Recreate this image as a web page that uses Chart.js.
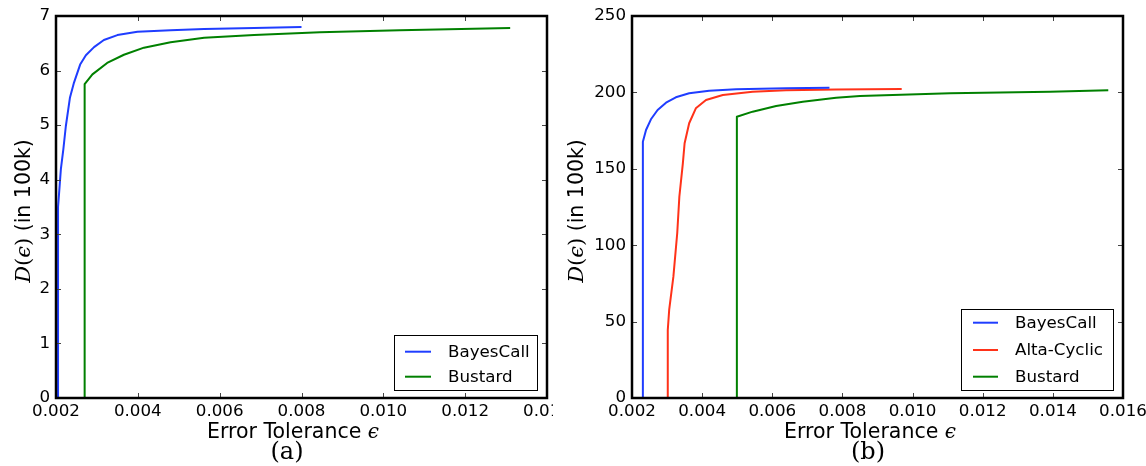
<!DOCTYPE html>
<html>
<head>
<meta charset="utf-8">
<script src="https://cdn.jsdelivr.net/npm/chart.js@4.4.0/dist/chart.umd.min.js"></script>
<style>
html, body { margin: 0; padding: 0; background: #fff; }
#wrap { position: relative; width: 1146px; height: 466px; overflow: hidden; }
.panel { position: absolute; top: 0; height: 466px; }
#panelA { left: 0; width: 553px; }
#panelB { left: 553px; width: 593px; }
</style>
</head>
<body>
<div id="wrap">
  <div class="panel" id="panelA"><canvas id="chartA"></canvas></div>
  <div class="panel" id="panelB"><canvas id="chartB"></canvas></div>
</div>
<script>
// ---------- panel (a) ----------
const epsTicksA = [0.002, 0.004, 0.006, 0.008, 0.010, 0.012, 0.014];
const dTicksA = [0, 1, 2, 3, 4, 5, 6, 7];

const bayesA_eps = [0.00205, 0.00205, 0.00209, 0.00212, 0.00218, 0.00224, 0.00234, 0.00244, 0.00259, 0.00273, 0.00293, 0.00317, 0.00350, 0.00399, 0.00480, 0.00562, 0.00684, 0.00800];
const bayesA_d   = [0, 3.5, 3.9, 4.2, 4.56, 4.98, 5.50, 5.78, 6.11, 6.28, 6.43, 6.56, 6.65, 6.71, 6.74, 6.76, 6.78, 6.80];

const bustardA_eps = [0.00270, 0.00270, 0.00289, 0.00325, 0.00366, 0.00415, 0.00480, 0.00562, 0.00684, 0.00845, 0.01040, 0.01310];
const bustardA_d   = [0, 5.75, 5.93, 6.14, 6.29, 6.42, 6.52, 6.60, 6.65, 6.70, 6.74, 6.78];

// ---------- panel (b) ----------
const epsTicksB = [0.002, 0.004, 0.006, 0.008, 0.010, 0.012, 0.014, 0.016];
const dTicksB = [0, 50, 100, 150, 200, 250];

const bayesB_eps = [0.00231, 0.00231, 0.00240, 0.00254, 0.00273, 0.00297, 0.00325, 0.00363, 0.00420, 0.00497, 0.00639, 0.00763];
const bayesB_d   = [0, 167.7, 175.4, 182.4, 188.5, 193.3, 196.8, 199.4, 201.1, 202, 202.7, 203.1];

const altaB_eps = [0.00302, 0.00302, 0.00306, 0.00318, 0.00329, 0.00335, 0.00345, 0.00350, 0.00363, 0.00382, 0.00411, 0.00459, 0.00544, 0.00639, 0.00782, 0.00969];
const altaB_d   = [0, 44.5, 57.6, 79.4, 108, 131.7, 153.6, 166.7, 179.8, 189.6, 195, 198.3, 200.5, 201.4, 201.9, 202.2];

const bustardB_eps = [0.00499, 0.00499, 0.00544, 0.00611, 0.00687, 0.00782, 0.00850, 0.01107, 0.01392, 0.01558];
const bustardB_d   = [0, 184.1, 187.4, 191.1, 193.9, 196.5, 197.6, 199.4, 200.5, 201.4];

const BLUE = '#1f3dff';
const RED = '#ff3219';
const GREEN = '#008000';

const SANS = '"DejaVu Sans", sans-serif';
const SERIF = '"DejaVu Serif", "Liberation Serif", serif';

function toPoints(xs, ys) {
    return xs.map((x, i) => ({ x: x, y: ys[i] }));
}

function series(label, xs, ys, color) {
    return {
        label: label,
        data: toPoints(xs, ys),
        borderColor: color,
        backgroundColor: color,
        borderWidth: 2,
        borderJoinStyle: 'round',
        pointRadius: 0,
        tension: 0,
        fill: false
    };
}

// draws a run of text pieces in different fonts, centred on (0,0) of the current transform
function drawRuns(ctx, runs) {
    let total = 0;
    runs.forEach(r => { ctx.font = r[1]; total += ctx.measureText(r[0]).width; });
    let x = -total / 2;
    ctx.textAlign = 'left';
    ctx.textBaseline = 'alphabetic';
    runs.forEach(r => {
        ctx.font = r[1];
        ctx.fillText(r[0], x, 0);
        x += ctx.measureText(r[0]).width;
    });
}

// matplotlib-like frame, inward ticks, axis titles, caption and legend
const mplDecor = {
    id: 'mplDecor',
    afterDatasetsDraw(chart, args, opts) {
        const ctx = chart.ctx;
        const a = chart.chartArea;
        const xs = chart.scales.x, ys = chart.scales.y;
        ctx.save();

        // ticks on all four sides
        ctx.strokeStyle = '#444';
        ctx.lineWidth = 1;
        ctx.beginPath();
        xs.ticks.forEach(t => {
            const px = Math.round(xs.getPixelForValue(t.value)) + 0.5;
            ctx.moveTo(px, a.bottom); ctx.lineTo(px, a.bottom - 5);
            ctx.moveTo(px, a.top); ctx.lineTo(px, a.top + 5);
        });
        ys.ticks.forEach(t => {
            const py = Math.round(ys.getPixelForValue(t.value)) + 0.5;
            ctx.moveTo(a.left, py); ctx.lineTo(a.left + 5, py);
            ctx.moveTo(a.right, py); ctx.lineTo(a.right - 5, py);
        });
        ctx.stroke();

        // frame
        ctx.strokeStyle = '#000';
        ctx.lineWidth = 2.5;
        ctx.strokeRect(a.left, a.top, a.right - a.left, a.bottom - a.top);

        // legend
        const lg = opts.legend;
        ctx.fillStyle = '#fff';
        ctx.fillRect(lg.box[0], lg.box[1], lg.box[2] - lg.box[0], lg.box[3] - lg.box[1]);
        ctx.strokeStyle = '#000';
        ctx.lineWidth = 1;
        ctx.strokeRect(lg.box[0] + 0.5, lg.box[1] + 0.5, lg.box[2] - lg.box[0], lg.box[3] - lg.box[1]);
        ctx.font = '16.7px ' + SANS;
        ctx.textAlign = 'left';
        ctx.textBaseline = 'middle';
        chart.data.datasets.forEach((ds, i) => {
            const y = lg.rows[i];
            ctx.strokeStyle = ds.borderColor;
            ctx.lineWidth = 2;
            ctx.beginPath();
            ctx.moveTo(lg.lineX[0], y); ctx.lineTo(lg.lineX[1], y);
            ctx.stroke();
            ctx.fillStyle = '#000';
            ctx.fillText(ds.label, lg.textX, y + 1);
        });

        ctx.fillStyle = '#000';
        // x axis title
        ctx.save();
        ctx.translate(opts.xTitle[0], opts.xTitle[1]);
        drawRuns(ctx, [['Error Tolerance ', '20.5px ' + SANS], ['\u03f5', 'italic 20px ' + SERIF]]);
        ctx.restore();

        // y axis title, rotated
        ctx.save();
        ctx.translate(opts.yTitle[0], opts.yTitle[1]);
        ctx.rotate(-Math.PI / 2);
        drawRuns(ctx, [
            ['D', 'italic 21px ' + SERIF],
            ['(', '21px ' + SERIF],
            ['\u03f5', 'italic 21px ' + SERIF],
            [')', '21px ' + SERIF],
            [' (in 100k)', '20.5px ' + SANS]
        ]);
        ctx.restore();

        // caption
        ctx.save();
        ctx.translate(opts.caption[0], opts.caption[1]);
        drawRuns(ctx, [[opts.caption[2], '24px ' + SERIF]]);
        ctx.restore();

        ctx.restore();
    }
};

function makeChart(id, datasets, cfg) {
    return new Chart(document.getElementById(id), {
        type: 'line',
        data: { datasets: datasets },
        plugins: [mplDecor],
        options: {
            responsive: true,
            maintainAspectRatio: false,
            animation: false,
            events: [],
            layout: { padding: { left: 0, top: 16, right: cfg.padRight, bottom: 0 } },
            plugins: {
                legend: { display: false },
                tooltip: { enabled: false },
                mplDecor: cfg.decor
            },
            scales: {
                x: {
                    type: 'linear',
                    min: cfg.xTicks[0],
                    max: cfg.xTicks[cfg.xTicks.length - 1],
                    grid: { display: false, drawTicks: false },
                    border: { display: false },
                    afterBuildTicks: s => { s.ticks = cfg.xTicks.map(v => ({ value: v })); },
                    afterFit: s => { s.height = 68; s.paddingLeft = 0; s.paddingRight = 0; },
                    ticks: {
                        autoSkip: false,
                        maxRotation: 0,
                        padding: 4,
                        color: '#000',
                        font: { family: SANS, size: 16.7 },
                        callback: v => v.toFixed(3)
                    }
                },
                y: {
                    type: 'linear',
                    min: cfg.yTicks[0],
                    max: cfg.yTicks[cfg.yTicks.length - 1],
                    grid: { display: false, drawTicks: false },
                    border: { display: false },
                    afterBuildTicks: s => { s.ticks = cfg.yTicks.map(v => ({ value: v })); },
                    afterFit: s => { s.width = cfg.yWidth; s.paddingTop = 0; s.paddingBottom = 0; },
                    ticks: {
                        autoSkip: false,
                        padding: 6,
                        color: '#000',
                        font: { family: SANS, size: 16.7 },
                        callback: v => String(v)
                    }
                }
            }
        }
    });
}

makeChart('chartA', [
    series('BayesCall', bayesA_eps, bayesA_d, BLUE),
    series('Bustard', bustardA_eps, bustardA_d, GREEN)
], {
    xTicks: epsTicksA,
    yTicks: dTicksA,
    yWidth: 56,
    padRight: 6,
    decor: {
        legend: { box: [394, 335, 537, 390], rows: [351.7, 376.7], lineX: [405, 431], textX: 448 },
        xTitle: [293, 438],
        yTitle: [30, 211],
        caption: [287, 459, '(a)']
    }
});

makeChart('chartB', [
    series('BayesCall', bayesB_eps, bayesB_d, BLUE),
    series('Alta-Cyclic', altaB_eps, altaB_d, RED),
    series('Bustard', bustardB_eps, bustardB_d, GREEN)
], {
    xTicks: epsTicksB,
    yTicks: dTicksB,
    yWidth: 79,
    padRight: 23,
    decor: {
        legend: { box: [408, 309, 560, 390], rows: [322.7, 350, 376.7], lineX: [420, 445], textX: 462 },
        xTitle: [317, 438],
        yTitle: [30, 211],
        caption: [315, 459, '(b)']
    }
});
</script>
</body>
</html>
